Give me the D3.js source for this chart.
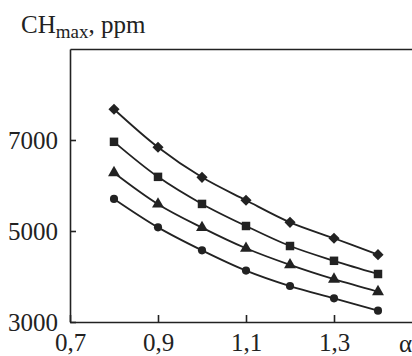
<!DOCTYPE html>
<html>
<head>
<meta charset="utf-8">
<script src="https://cdn.jsdelivr.net/npm/d3@7"></script>
<style>
  body { margin: 0; background: #fff; }
  svg, svg text { font-family: "Liberation Serif", "Times New Roman", serif; }
  svg { display: block; }
</style>
</head>
<body>
<div class="chart"></div>
<script>
const alphaValues = [0.8, 0.9, 1.0, 1.1, 1.2, 1.3, 1.4];
const diamondSeries = [7675, 6840, 6180, 5675, 5190, 4840, 4480];
const squareSeries = [6960, 6190, 5595, 5110, 4670, 4345, 4055];
const triangleSeries = [6280, 5590, 5075, 4620, 4255, 3940, 3665];
const circleSeries = [5705, 5080, 4575, 4130, 3790, 3520, 3250];
const xTicks = [0.7, 0.9, 1.1, 1.3];
const yTicks = [3000, 5000, 7000];

const series = [
  {symbol: d3.symbolSquare, size: 62, rotate: 45, values: diamondSeries},
  {symbol: d3.symbolSquare, size: 72, rotate: 0, values: squareSeries},
  {symbol: d3.symbolTriangle, size: 62, rotate: 0, values: triangleSeries},
  {symbol: d3.symbolCircle, size: 52, rotate: 0, values: circleSeries},
];

const W = 412, H = 356;
const margin = {top: 49, left: 70, bottom: 34};
const ink = '#222';

const svg = d3.select('.chart')
  .append('svg')
  .attr('width', W)
  .attr('height', H);

const xScale = d3.scaleLinear()
  .domain([0.7, 1.5])
  .range([margin.left, margin.left + 352]);

const yScale = d3.scaleLinear()
  .domain([3000, 9000])
  .range([H - margin.bottom, margin.top]);

const fmt = d => d3.format('.1f')(d).replace('.', ',');

// bottom axis, ticks pointing inward
const xAxis = svg.append('g')
  .attr('transform', `translate(0, ${yScale(3000)})`)
  .call(d3.axisBottom(xScale).tickValues(xTicks).tickSize(-7).tickSizeOuter(0).tickFormat(fmt));
xAxis.selectAll('text')
  .attr('y', 11)
  .attr('dy', '0.71em');

// left axis
const yAxis = svg.append('g')
  .attr('transform', `translate(${margin.left}, 0)`)
  .call(d3.axisLeft(yScale).tickValues(yTicks).tickSize(-6).tickSizeOuter(0).tickFormat(d3.format('d')));
yAxis.selectAll('text')
  .attr('x', -12);

[xAxis, yAxis].forEach(ax => ax
  .attr('font-family', null)
  .attr('font-size', null)
  .selectAll('text')
  .style('font-size', '25px')
  .style('fill', ink));

// top border
svg.append('g')
  .attr('transform', `translate(0, ${yScale(9000)})`)
  .call(d3.axisTop(xScale).tickValues([]).tickSizeOuter(0));

svg.selectAll('.domain, .tick line')
  .attr('stroke', ink)
  .attr('stroke-width', 1.6);

const line = d3.line()
  .x((d, i) => xScale(alphaValues[i]))
  .y(d => yScale(d))
  .curve(d3.curveCatmullRom.alpha(0.5));

series.forEach(s => {
  svg.append('path')
    .attr('d', line(s.values))
    .attr('fill', 'none')
    .attr('stroke', ink)
    .attr('stroke-width', 1.8);

  svg.selectAll(null)
    .data(s.values)
    .enter()
    .append('path')
    .attr('transform', (d, i) => `translate(${xScale(alphaValues[i])}, ${yScale(d)}) rotate(${s.rotate})`)
    .attr('d', d3.symbol().type(s.symbol).size(s.size))
    .attr('fill', ink);
});

// axis titles
const title = svg.append('text')
  .attr('x', 21)
  .attr('y', 33)
  .style('font-size', '25px')
  .style('fill', ink);
title.append('tspan').text('CH');
title.append('tspan').attr('dy', 5).style('font-size', '19px').text('max');
title.append('tspan').attr('dy', -5).text(', ppm');

svg.append('text')
  .attr('x', 399)
  .attr('y', 352)
  .style('font-size', '25px')
  .style('fill', ink)
  .text('α');
</script>
</body>
</html>
